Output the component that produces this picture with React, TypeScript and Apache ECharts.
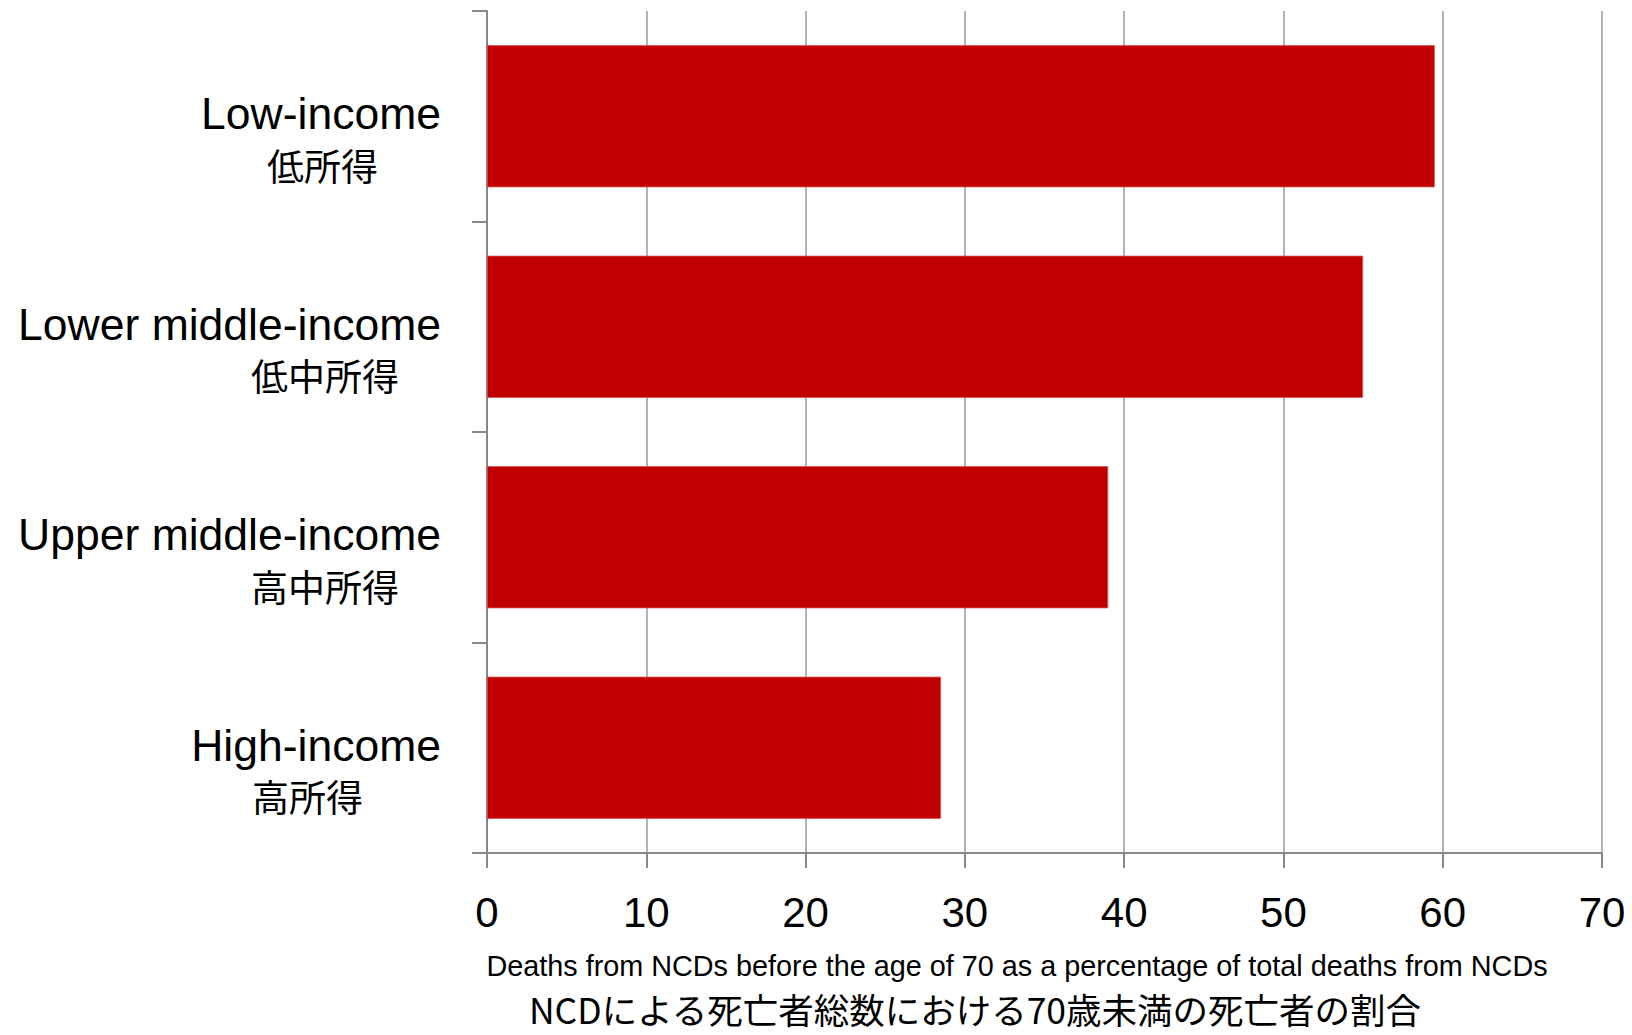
import React, { useEffect, useRef } from "react";
import * as echarts from "echarts";

const categoriesEn = ["Low-income", "Lower middle-income", "Upper middle-income", "High-income"];
const categoriesJa = ["低所得", "低中所得", "高中所得", "高所得"];
const jaStyleKeys = ["jLow", "jMid", "jMid", "jHigh"];
const values = [59.5, 55, 39, 28.5];
const xTitleEn = "Deaths from NCDs before the age of 70 as a percentage of total deaths from NCDs";
const xTitleJa = "NCDによる死亡者総数における70歳未満の死亡者の割合";

const EN_FONT = "'Liberation Sans', Arial, sans-serif";
const JA_FONT = "'Noto Sans CJK JP', sans-serif";

export default function App() {
  const ref = useRef<HTMLDivElement>(null);
  useEffect(() => {
    if (!ref.current) return;
    const chart = echarts.init(ref.current, null, { renderer: "svg" });
    const jaBase = { fontFamily: JA_FONT, fontSize: 37, lineHeight: 51, color: "#000" };
    chart.setOption({
      animation: false,
      backgroundColor: "#fff",
      grid: { left: 487, right: 30, top: 11, bottom: 182, containLabel: false },
      xAxis: {
        type: "value",
        min: 0,
        max: 70,
        interval: 10,
        axisLine: { show: true, lineStyle: { color: "#888", width: 2 } },
        axisTick: { show: true, inside: false, length: 15, lineStyle: { color: "#888", width: 2 } },
        splitLine: { show: true, lineStyle: { color: "#9a9a9a", width: 1.5 } },
        axisLabel: { fontFamily: EN_FONT, fontSize: 42, color: "#000", margin: 38 },
      },
      yAxis: {
        type: "category",
        inverse: true,
        data: categoriesEn,
        axisLine: { show: true, lineStyle: { color: "#888", width: 2 } },
        axisTick: { show: true, length: 15, lineStyle: { color: "#888", width: 2 } },
        splitLine: { show: false },
        axisLabel: {
          margin: 46,
          align: "right",
          padding: [46, 0, 0, 0],
          formatter: (v: string, i: number) => `{en|${v}}\n{${jaStyleKeys[i]}|${categoriesJa[i]}}`,
          rich: {
            en: { fontFamily: EN_FONT, fontSize: 44.5, lineHeight: 51, color: "#000" },
            jLow: { ...jaBase, padding: [0, 63, 0, 0] },
            jMid: { ...jaBase, padding: [0, 42, 0, 0] },
            jHigh: { ...jaBase, padding: [0, 78, 0, 0] },
          },
        },
      },
      series: [
        {
          type: "bar",
          data: values,
          barCategoryGap: "32.5%",
          itemStyle: { color: "#C00000", borderColor: "#d85050", borderWidth: 0.8 },
        },
      ],
      graphic: [
        {
          type: "text",
          x: 1017,
          y: 966,
          style: {
            text: xTitleEn,
            fontFamily: EN_FONT,
            fontSize: 28.8,
            fill: "#000",
            align: "center",
            verticalAlign: "middle",
          },
        },
        {
          type: "text",
          x: 975,
          y: 1008,
          style: {
            text: xTitleJa,
            fontFamily: JA_FONT,
            fontSize: 35.5,
            lineHeight: 36,
            fill: "#000",
            align: "center",
            verticalAlign: "middle",
          },
        },
      ],
    });
    return () => chart.dispose();
  }, []);
  return <div ref={ref} style={{ width: 1632, height: 1035, position: "absolute", left: 0, top: 0 }} />;
}
